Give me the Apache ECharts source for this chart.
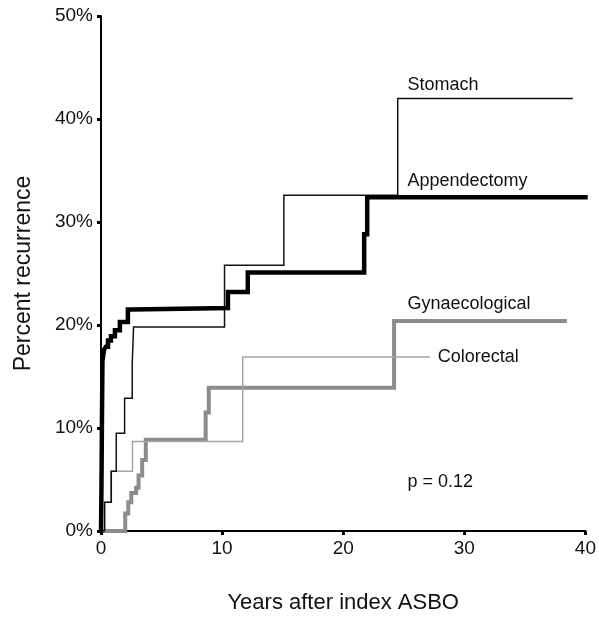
<!DOCTYPE html>
<html>
<head>
<meta charset="utf-8">
<script src="https://cdn.jsdelivr.net/npm/echarts@6/dist/echarts.min.js"></script>
<style>
  html,body{margin:0;padding:0;background:#fff}
  #chart{width:599px;height:619px}
</style>
</head>
<body>
<div id="chart"></div>
<script>
const $ = id => document.getElementById(id);
const FONT = '"Liberation Sans", Arial, sans-serif';

// Kaplan-Meier steps: years after index ASBO, percent recurrence
const stomachYears = [0, 0.3, 0.85, 1.26, 1.95, 2.58, 2.69, 10.2, 15.1, 24.5, 38.9];
const stomachPct   = [0, 2.8, 5.8, 9.5, 12.9, 16.3, 19.8, 25.8, 32.6, 42.0, 42.0];

const appendYears = [0, 0.04, 0.08, 0.12, 0.25, 0.41, 0.58, 0.82, 1.15, 1.56, 2.22, 2.53, 10.48, 12.12, 21.73, 21.98, 40];
const appendPct   = [0, 4.5, 11, 16.5, 17.6, 17.9, 18.5, 18.9, 19.5, 20.3, 21.5, 21.65, 23.2, 25.1, 28.8, 32.4, 32.4];

const gynYears = [0, 2.0, 2.25, 2.5, 2.9, 3.1, 3.4, 3.7, 8.64, 8.9, 24.2, 38.3];
const gynPct   = [0, 1.7, 2.8, 3.7, 4.2, 5.4, 6.9, 8.85, 11.5, 13.9, 20.4, 20.4];

const colorectalYears = [0, 0.3, 0.8, 2.6, 11.7, 27.1];
const colorectalPct   = [0, 2.8, 5.8, 8.7, 16.9, 16.9];

const xTicks = [0, 10, 20, 30, 40];
const yTicks = [0, 10, 20, 30, 40, 50];

// annotation text, placed in data coordinates (left edge, vertical centre)
const labels = [
  {text:'Stomach', x:25.3, y:43.3},
  {text:'Appendectomy', x:25.3, y:34.0},
  {text:'Gynaecological', x:25.3, y:22.0},
  {text:'Colorectal', x:27.8, y:16.9},
  {text:'p = 0.12', x:25.3, y:4.8}
];

const pairs = (xs, ys) => xs.map((x, i) => [x, ys[i]]);

const chart = echarts.init($('chart'), null, {renderer:'canvas'});

const axisText = {color:'#111', fontFamily:FONT, fontSize:19};

function kmSeries(name, xs, ys, color, width, z){
  return {name, type:'line', step:'end', data:pairs(xs, ys), showSymbol:false, symbol:'none',
    lineStyle:{color, width, cap:'square', join:'miter'}, z, animation:false};
}

chart.setOption({
  backgroundColor:'#fff',
  animation:false,
  grid:{left:101, right:12, top:16, bottom:88, containLabel:false},
  xAxis:{
    type:'value', min:xTicks[0], max:xTicks[xTicks.length-1], interval:10,
    name:'Years after index ASBO', nameLocation:'middle', nameGap:61,
    nameTextStyle:{color:'#111', fontFamily:FONT, fontSize:22},
    axisLine:{lineStyle:{color:'#000', width:2}},
    axisTick:{show:true, inside:false, length:4, lineStyle:{color:'#000', width:3}},
    axisLabel:{...axisText, margin:8},
    splitLine:{show:false}
  },
  yAxis:{
    type:'value', min:yTicks[0], max:yTicks[yTicks.length-1], interval:10,
    name:'Percent recurrence', nameLocation:'middle', nameGap:66, nameRotate:90,
    nameTextStyle:{color:'#111', fontFamily:FONT, fontSize:23},
    axisLine:{show:true, lineStyle:{color:'#000', width:2}},
    axisTick:{show:true, inside:false, length:4, lineStyle:{color:'#000', width:3}},
    axisLabel:{...axisText, margin:8, formatter:'{value}%'},
    splitLine:{show:false}
  },
  series:[
    kmSeries('Gynaecological', gynYears, gynPct, '#8c8c8c', 4, 2),
    kmSeries('Colorectal', colorectalYears, colorectalPct, '#a6a6a6', 1.5, 3),
    kmSeries('Stomach', stomachYears, stomachPct, '#111', 1.5, 4),
    kmSeries('Appendectomy', appendYears, appendPct, '#000', 4.5, 5)
  ]
});

// place annotation texts through the axis scales
chart.setOption({
  graphic: labels.map(l => {
    const p = chart.convertToPixel({gridIndex:0}, [l.x, l.y]);
    return {type:'text', x:p[0], y:p[1], z:10,
      style:{text:l.text, fill:'#111', font:'18px ' + FONT, textAlign:'left', textVerticalAlign:'middle'}};
  })
});
</script>
</body>
</html>
